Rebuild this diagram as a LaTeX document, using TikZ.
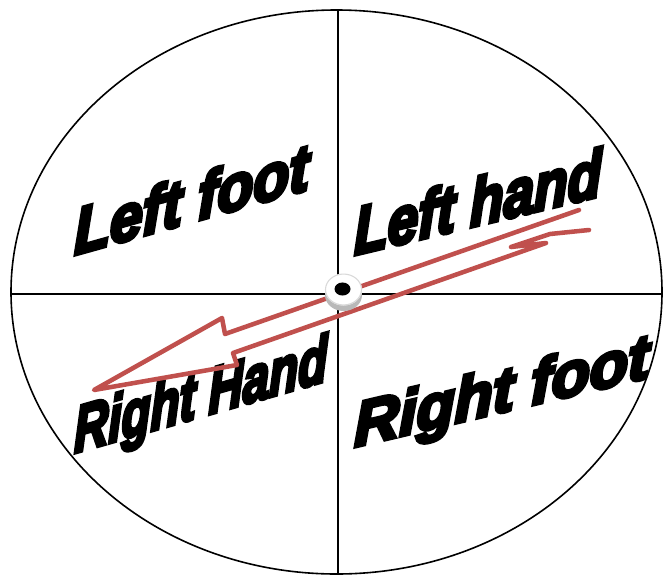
\documentclass[tikz,border=0pt]{standalone}
\usepackage{fontspec}
\newfontfamily\wa{Liberation Sans}[BoldItalicFeatures={FakeBold=6}]
\definecolor{arrowred}{RGB}{192,80,77}
\tikzset{
  rim/.style={draw=black, line width=1.2pt},
  axisline/.style={draw=black, line width=1.2pt},
  wordart/.style={font=\wa\bfseries\itshape\fontsize{40}{40}\selectfont, anchor=base west, inner sep=0pt, text=black},
  bolt/.style={draw=arrowred, line width=3.4pt, line join=round, line cap=round},
}
\begin{document}
\begin{tikzpicture}[x=0.75pt,y=-0.75pt]
\useasboundingbox (0,0) rectangle (663,575);
\fill[white] (0,0) rectangle (663,575);
% wheel
\coordinate (c) at (336.5,292);
\draw[rim] (c) ellipse [x radius=244.125pt, y radius=211.5pt];
\coordinate (top) at (338,10);
\coordinate (bot) at (338,574);
\coordinate (lft) at (11,294);
\coordinate (rgt) at (662,294);
\draw[axisline] (top) -- (bot);
\draw[axisline] (lft) -- (rgt);
% labels
\node[wordart, yslant=0.28, xscale=1.1, yscale=1.23] (lf) at (74,255) {Left foot};
\node[wordart, yslant=0.24, xscale=1.03, yscale=1.26] (lh) at (354,255) {Left hand};
\node[wordart, yslant=0.287, xscale=0.89, yscale=1.23] (rh) at (74,453) {Right Hand};
\node[wordart, yslant=0.236, xscale=1.17, yscale=1.18] (rf) at (354,447) {Right foot};
% spinner arrow
\coordinate (t1) at (579,210);
\coordinate (u1) at (225,334);
\coordinate (u2) at (222,318);
\coordinate (tip) at (94,390);
\coordinate (l1) at (237,365);
\coordinate (l2) at (233,353);
\coordinate (za) at (546,243);
\coordinate (zb) at (511,247);
\coordinate (zc) at (550,234);
\coordinate (t2) at (589,230);
\draw[bolt] (t1) -- (u1) -- (u2) -- (tip) -- (l1) -- (l2) -- (za) -- (zb) -- (zc) -- (t2);
% knob
\coordinate (kside) at (343.5,295);
\coordinate (ktop) at (343.5,289.5);
\coordinate (khole) at (342.5,289);
\fill[gray!55] (kside) ellipse [x radius=13.9pt, y radius=12pt];
\fill[white] (ktop) ellipse [x radius=13.9pt, y radius=12pt];
\draw[gray!30, line width=0.8pt] (ktop) ellipse [x radius=13.5pt, y radius=11.6pt];
\fill[black] (khole) ellipse [x radius=6pt, y radius=4.9pt];
\end{tikzpicture}
\end{document}
